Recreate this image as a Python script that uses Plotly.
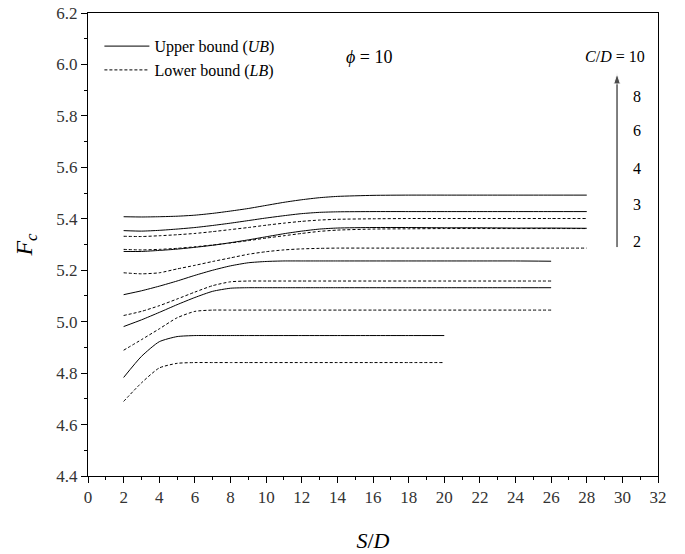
import plotly.graph_objects as go

# ---- data ----
x28 = [2, 3, 4, 5, 6, 7, 8, 9, 10, 11, 12, 13, 14, 16, 18, 20, 22, 24, 26, 28]
x26 = [2, 3, 4, 5, 6, 7, 8, 9, 10, 11, 12, 13, 14, 16, 18, 20, 22, 24, 26]
x20 = [2, 3, 4, 5, 6, 7, 8, 9, 10, 12, 14, 16, 18, 20]

ub_cd10 = [5.408, 5.407, 5.408, 5.410, 5.414, 5.421, 5.430, 5.440, 5.452, 5.464, 5.474, 5.482, 5.487, 5.491, 5.492, 5.492, 5.492, 5.492, 5.492, 5.492]
ub_cd8 = [5.354, 5.352, 5.355, 5.360, 5.366, 5.374, 5.383, 5.393, 5.403, 5.412, 5.420, 5.425, 5.427, 5.428, 5.428, 5.428, 5.428, 5.428, 5.428, 5.428]
ub_cd6 = [5.273, 5.273, 5.277, 5.282, 5.289, 5.297, 5.307, 5.318, 5.330, 5.342, 5.352, 5.360, 5.364, 5.366, 5.366, 5.365, 5.365, 5.364, 5.364, 5.363]
ub_cd4 = [5.105, 5.120, 5.138, 5.158, 5.180, 5.200, 5.217, 5.229, 5.234, 5.236, 5.236, 5.236, 5.236, 5.236, 5.236, 5.236, 5.236, 5.236, 5.235]
ub_cd3 = [4.981, 5.007, 5.036, 5.066, 5.094, 5.118, 5.130, 5.132, 5.132, 5.132, 5.132, 5.132, 5.132, 5.132, 5.132, 5.132, 5.132, 5.132, 5.132]
ub_cd2 = [4.783, 4.865, 4.922, 4.942, 4.946, 4.946, 4.946, 4.946, 4.946, 4.946, 4.946, 4.946, 4.946, 4.946]

lb_cd10 = [5.332, 5.331, 5.334, 5.338, 5.343, 5.350, 5.358, 5.366, 5.375, 5.383, 5.390, 5.395, 5.398, 5.400, 5.401, 5.401, 5.401, 5.401, 5.401, 5.401]
lb_cd8 = [5.281, 5.279, 5.281, 5.285, 5.291, 5.298, 5.306, 5.315, 5.325, 5.334, 5.343, 5.351, 5.356, 5.360, 5.361, 5.362, 5.362, 5.362, 5.362, 5.362]
lb_cd6 = [5.190, 5.186, 5.190, 5.205, 5.219, 5.234, 5.248, 5.262, 5.272, 5.279, 5.283, 5.285, 5.286, 5.286, 5.286, 5.286, 5.286, 5.286, 5.286, 5.286]
lb_cd4 = [5.024, 5.040, 5.062, 5.088, 5.115, 5.140, 5.155, 5.158, 5.158, 5.158, 5.158, 5.158, 5.158, 5.158, 5.158, 5.158, 5.158, 5.158, 5.158]
lb_cd3 = [4.889, 4.930, 4.972, 5.015, 5.040, 5.045, 5.045, 5.045, 5.045, 5.045, 5.045, 5.045, 5.045, 5.045, 5.045, 5.045, 5.045, 5.045, 5.045]
lb_cd2 = [4.690, 4.762, 4.820, 4.838, 4.841, 4.841, 4.841, 4.841, 4.841, 4.841, 4.841, 4.841, 4.841, 4.841]

cd_labels = ["8", "6", "4", "3", "2"]
cd_label_y = [5.876, 5.743, 5.595, 5.454, 5.313]
arrow_x = [29.7, 29.7]
arrow_y = [5.29, 5.965]

FONT = "Liberation Serif"

fig = go.Figure()

ub_series = [(x28, ub_cd10), (x28, ub_cd8), (x28, ub_cd6), (x26, ub_cd4), (x26, ub_cd3), (x20, ub_cd2)]
lb_series = [(x28, lb_cd10), (x28, lb_cd8), (x28, lb_cd6), (x26, lb_cd4), (x26, lb_cd3), (x20, lb_cd2)]

for i, (xs, ys) in enumerate(ub_series):
    fig.add_trace(go.Scatter(
        x=xs, y=ys, mode="lines",
        line=dict(color="black", width=1, shape="spline", smoothing=0.6),
        name="Upper bound (<i>UB</i>)", legendgroup="ub", showlegend=(i == 0),
    ))
for i, (xs, ys) in enumerate(lb_series):
    fig.add_trace(go.Scatter(
        x=xs, y=ys, mode="lines",
        line=dict(color="black", width=1, dash="3px,2px", shape="spline", smoothing=0.6),
        name="Lower bound (<i>LB</i>)", legendgroup="lb", showlegend=(i == 0),
    ))

# C/D arrow
fig.add_trace(go.Scatter(
    x=arrow_x, y=arrow_y, mode="lines+markers",
    line=dict(color="black", width=1),
    marker=dict(symbol="arrow", size=[0, 11], angleref="previous", color="black"),
    showlegend=False, hoverinfo="skip",
))

# annotations
fig.add_annotation(x=15.8, y=6.03, text="<i>ϕ</i> = 10", showarrow=False,
                   font=dict(family=FONT, size=18, color="black"))
fig.add_annotation(x=29.6, y=6.03, text="<i>C</i>/<i>D</i> = 10", showarrow=False,
                   font=dict(family=FONT, size=16, color="black"))
for lab, yy in zip(cd_labels, cd_label_y):
    fig.add_annotation(x=30.8, y=yy, text=lab, showarrow=False,
                       font=dict(family=FONT, size=16, color="black"))

axis_common = dict(
    showgrid=False, zeroline=False, showline=True, linecolor="black", linewidth=1,
    mirror=True, ticks="outside", ticklen=6, tickwidth=1, tickcolor="black",
    tickfont=dict(family=FONT, size=17, color="#333"), automargin=False,
)

fig.update_xaxes(range=[0, 32], dtick=2, tick0=0,
                 minor=dict(dtick=1, ticks="outside", ticklen=3, tickcolor="black"),
                 title=dict(text="<i>S</i>/<i>D</i>", font=dict(family=FONT, size=22, color="black"), standoff=26),
                 **axis_common)
fig.update_yaxes(range=[4.4, 6.2], dtick=0.2, tick0=4.4, tickformat=".1f",
                 minor=dict(dtick=0.1, ticks="outside", ticklen=3, tickcolor="black"),
                 title=dict(text="<i>F<sub>c</sub></i>", font=dict(family=FONT, size=24, color="black"), standoff=16),
                 **axis_common)

fig.update_layout(
    width=685, height=554,
    margin=dict(l=88, r=27, t=13, b=78),
    plot_bgcolor="white", paper_bgcolor="white",
    legend=dict(x=0.02, y=0.965, xanchor="left", yanchor="top",
                bgcolor="rgba(0,0,0,0)", font=dict(family=FONT, size=16, color="black"),
                tracegroupgap=0, itemwidth=45),
    showlegend=True,
)

fig.write_html("out.html")
